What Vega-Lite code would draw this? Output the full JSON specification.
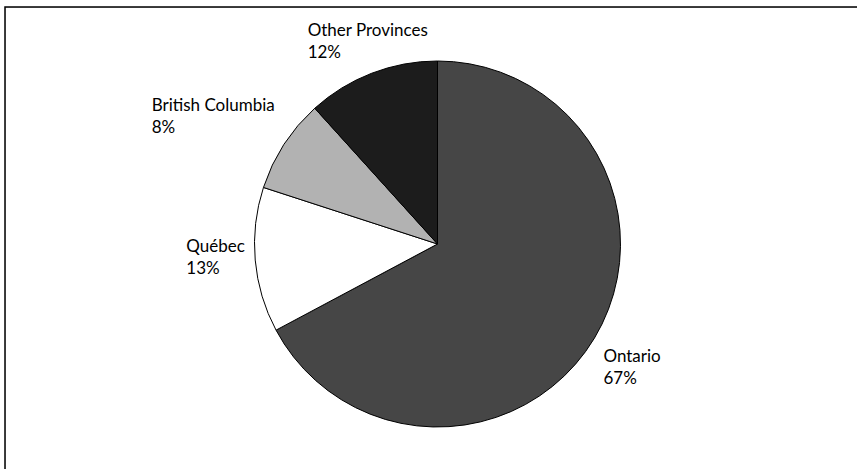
{
  "$schema": "https://vega.github.io/schema/vega-lite/v6.json",
  "width": 865,
  "height": 474,
  "autosize": {"type": "none"},
  "padding": {"left": 5, "top": 7, "right": -13, "bottom": -12},
  "background": "white",
  "data": {
    "values": [
      {"region": "Ontario", "share": 67.2},
      {"region": "Québec", "share": 12.8},
      {"region": "British Columbia", "share": 8.3},
      {"region": "Other Provinces", "share": 11.7}
    ]
  },
  "transform": [
    {"window": [{"op": "row_number", "as": "rank"}]},
    {"calculate": "datum.region + '\\n' + format(datum.share / 100, '.0%')", "as": "label"}
  ],
  "layer": [
    {
      "transform": [{"aggregate": [{"op": "count", "as": "n"}]}],
      "mark": {"type": "rect", "fill": null, "stroke": "black", "strokeWidth": 1.5},
      "encoding": {
        "x": {"value": 0},
        "x2": {"value": "width"},
        "y": {"value": 0},
        "y2": {"value": "height"}
      }
    },
    {
      "mark": {"type": "arc", "radius": 183, "stroke": "black", "strokeWidth": 1},
      "encoding": {
        "theta": {"field": "share", "type": "quantitative", "stack": true},
        "order": {"field": "rank", "type": "quantitative"},
        "color": {
          "field": "region",
          "type": "nominal",
          "scale": {
            "domain": ["Ontario", "Québec", "British Columbia", "Other Provinces"],
            "range": ["#464646", "#ffffff", "#b2b2b2", "#1c1c1c"]
          },
          "legend": null
        }
      }
    },
    {
      "mark": {
        "type": "text",
        "radius": 225,
        "align": "left",
        "baseline": "middle",
        "font": "Lato",
        "fontSize": 17,
        "lineBreak": "\n",
        "lineHeight": 22,
        "color": "black",
        "dx": {"expr": "datum.region === 'Ontario' ? -27 : datum.region === 'Québec' ? -27 : datum.region === 'British Columbia' ? -97 : -49"},
        "dy": {"expr": "datum.region === 'Ontario' ? -3 : datum.region === 'Québec' ? -17 : datum.region === 'British Columbia' ? -16 : -3"}
      },
      "encoding": {
        "theta": {"field": "share", "type": "quantitative", "stack": true},
        "order": {"field": "rank", "type": "quantitative"},
        "text": {"field": "label", "type": "nominal"}
      }
    }
  ]
}
